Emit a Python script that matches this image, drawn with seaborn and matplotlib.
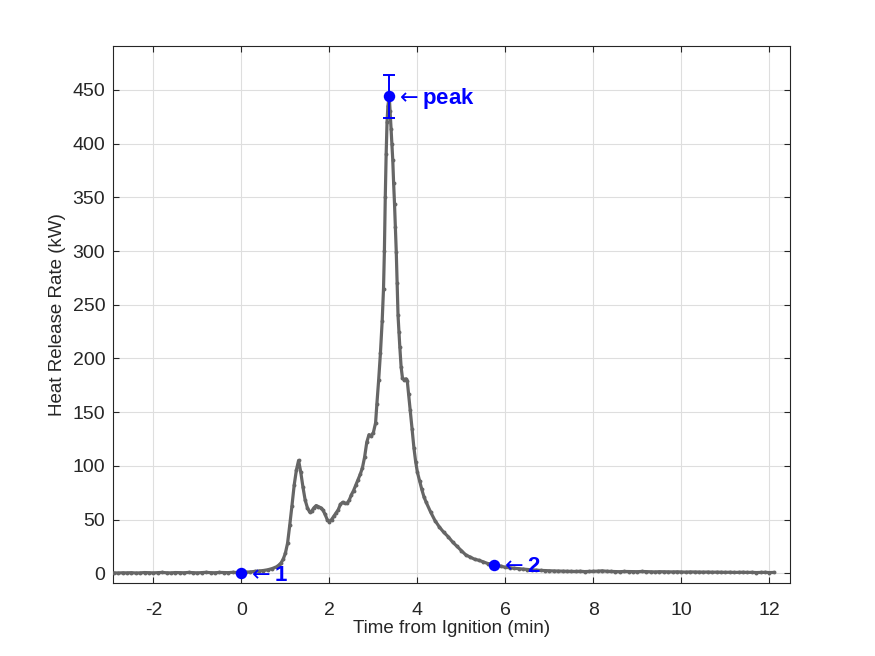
import matplotlib
matplotlib.use("Agg")
import matplotlib.pyplot as plt
import seaborn as sns
import pandas as pd

# ---- data ----
time_min = [
    -2.9, -2.8, -2.7, -2.6, -2.5, -2.4, -2.3, -2.2, -2.1, -2.0,
    -1.9, -1.8, -1.7, -1.6, -1.5, -1.4, -1.3, -1.2, -1.1, -1.0,
    -0.9, -0.8, -0.7, -0.6, -0.5, -0.4, -0.3, -0.2, -0.1,
    0.0, 0.1, 0.2, 0.3, 0.4, 0.5, 0.6, 0.7, 0.8, 0.85, 0.9, 0.95,
    1.0, 1.05, 1.1, 1.15, 1.2, 1.25, 1.3, 1.35, 1.4, 1.45, 1.5, 1.55,
    1.6, 1.65, 1.7, 1.75, 1.8, 1.85, 1.9, 1.95, 2.0, 2.05, 2.1, 2.15,
    2.2, 2.25, 2.3, 2.35, 2.4, 2.45, 2.5, 2.55, 2.6, 2.65, 2.7, 2.75,
    2.8, 2.85, 2.9, 2.95, 3.0, 3.05, 3.08, 3.12, 3.16, 3.2, 3.23, 3.25,
    3.27, 3.29, 3.31, 3.33, 3.36, 3.38, 3.4, 3.42, 3.44, 3.46, 3.48,
    3.5, 3.52, 3.54, 3.56, 3.58, 3.6, 3.63, 3.66, 3.7, 3.74, 3.77,
    3.8, 3.84, 3.88, 3.92, 3.96, 4.0, 4.05, 4.1, 4.15, 4.2, 4.3, 4.4,
    4.5, 4.6, 4.7, 4.8, 4.9, 5.0, 5.1, 5.2, 5.3, 5.4, 5.5, 5.6, 5.7,
    5.8, 5.9, 6.0, 6.1, 6.2, 6.3, 6.4, 6.5, 6.6, 6.7, 6.8, 6.9, 7.0,
    7.1, 7.2, 7.3, 7.4, 7.5, 7.6, 7.7, 7.8, 7.9, 8.0, 8.1, 8.2, 8.3,
    8.4, 8.5, 8.6, 8.7, 8.8, 8.9, 9.0, 9.1, 9.2, 9.3, 9.4, 9.5, 9.6,
    9.7, 9.8, 9.9, 10.0, 10.1, 10.2, 10.3, 10.4, 10.5, 10.6, 10.7,
    10.8, 10.9, 11.0, 11.1, 11.2, 11.3, 11.4, 11.5, 11.6, 11.7, 11.8,
    11.9, 12.0, 12.1,
]
hrr_kw = [
    0.3, 0.2, 0.4, 0.3, 0.5, 0.2, 0.3, 0.6, 0.4, 0.3,
    0.5, 0.7, 0.4, 0.3, 0.6, 0.5, 0.4, 0.7, 0.5, 0.3,
    0.6, 0.8, 0.5, 0.4, 0.7, 0.6, 0.5, 0.8, 0.6,
    0.5, 0.8, 1.2, 1.6, 2.0, 2.5, 3.2, 4.3, 6.0, 7.5, 9.5, 13.0,
    18.6, 28.0, 45.0, 63.0, 82.0, 96.0, 105.0, 94.0, 80.0, 68.0, 61.0, 57.0,
    58.0, 61.0, 63.0, 62.0, 61.0, 59.0, 55.0, 50.0, 48.0, 50.0, 53.0, 56.0,
    59.0, 64.0, 66.0, 65.0, 65.0, 68.0, 73.0, 77.0, 82.0, 87.0, 92.0, 98.0,
    108.0, 122.0, 129.0, 128.0, 131.0, 140.0, 158.0, 180.0, 205.0, 235.0, 265.0, 300.0,
    350.0, 390.0, 420.0, 435.0, 444.0, 430.0, 414.0, 400.0, 385.0, 363.0, 344.0,
    322.0, 299.0, 270.0, 240.0, 225.0, 211.0, 192.0, 182.0, 180.0, 181.0, 179.0,
    167.0, 152.0, 134.0, 117.0, 104.0, 94.0, 86.0, 78.0, 71.0, 66.0, 57.0, 49.0,
    43.0, 38.0, 34.0, 29.0, 25.0, 21.0, 17.0, 15.0, 13.0, 12.0, 10.5, 9.0, 8.5,
    7.5, 6.5, 5.5, 5.0, 4.6, 4.2, 3.8, 3.4, 3.1, 2.8, 2.6, 2.4, 2.3,
    2.1, 2.0, 1.8, 1.9, 1.7, 1.6, 1.8, 1.5, 1.6, 1.7, 1.9, 2.2, 1.8,
    1.6, 1.5, 1.4, 1.6, 1.5, 1.3, 1.4, 1.6, 1.5, 1.3, 1.2, 1.4, 1.3,
    1.1, 1.2, 1.3, 1.1, 1.0, 1.2, 1.1, 0.9, 1.0, 1.1, 0.9,
    1.0, 0.9, 0.8, 0.9, 0.7, 0.8, 0.9, 0.7, 0.8, 0.6, 0.7,
    0.8, 0.6, 0.7,
]

marker_labels = ["1", "2", "peak"]
marker_time = [0.0, 5.75, 3.36]
marker_hrr = [0.0, 8.0, 444.0]
peak_err = 20.0

x_ticks = [-2, 0, 2, 4, 6, 8, 10, 12]
y_ticks = [0, 50, 100, 150, 200, 250, 300, 350, 400, 450]

# ---- style ----
sns.set_theme(style="white")
plt.rcParams["font.family"] = ["Liberation Sans", "DejaVu Sans"]
plt.rcParams["mathtext.fontset"] = "dejavusans"

fig = plt.figure(figsize=(8.75, 6.56), dpi=100)
ax = fig.add_axes([0.129, 0.111, 0.774, 0.819])

df = pd.DataFrame({"t": time_min, "hrr": hrr_kw})
sns.lineplot(data=df, x="t", y="hrr", ax=ax, color="#666666", linewidth=2.3,
             marker="o", markersize=2.8, markeredgewidth=0, estimator=None,
             sort=False, zorder=3)

blue = "#0000ff"
ax.errorbar([marker_time[2]], [marker_hrr[2]], yerr=[peak_err], fmt="none",
            ecolor=blue, elinewidth=1.4, capsize=4.5, capthick=1.4, zorder=4)
sns.scatterplot(x=marker_time, y=marker_hrr, ax=ax, color=blue, s=68,
                edgecolor=blue, linewidth=0, zorder=5)

for lbl, tx, ty in zip(marker_labels, marker_time, marker_hrr):
    ax.annotate(r"$\leftarrow$" + lbl, xy=(tx, ty), xytext=(4, -1.5),
                textcoords="offset points", ha="left", va="center",
                color=blue, fontsize=16, fontweight="bold", zorder=6)

ax.set_xlim(-2.92, 12.47)
ax.set_ylim(-9.3, 491)
ax.set_xticks(x_ticks)
ax.set_yticks(y_ticks)
ax.set_xticklabels([str(v) for v in x_ticks])
ax.set_yticklabels([str(v) for v in y_ticks])

ax.grid(True, color="#dedede", linewidth=0.8)
ax.set_axisbelow(True)
for sp in ax.spines.values():
    sp.set_visible(True)
    sp.set_color("#262626")
    sp.set_linewidth(0.8)
ax.tick_params(direction="in", length=4, width=0.8, colors="#262626",
               labelsize=14, top=True, right=True, bottom=True, left=True,
               labeltop=False, labelright=False)
ax.tick_params(axis="x", pad=13.5)
ax.tick_params(axis="y", pad=5.5)
ax.set_xlabel("Time from Ignition (min)", fontsize=13.5, color="#262626", labelpad=0.5)
ax.set_ylabel("Heat Release Rate (kW)", fontsize=13.5, color="#262626", labelpad=5)

fig.savefig("out.png", dpi=100)
